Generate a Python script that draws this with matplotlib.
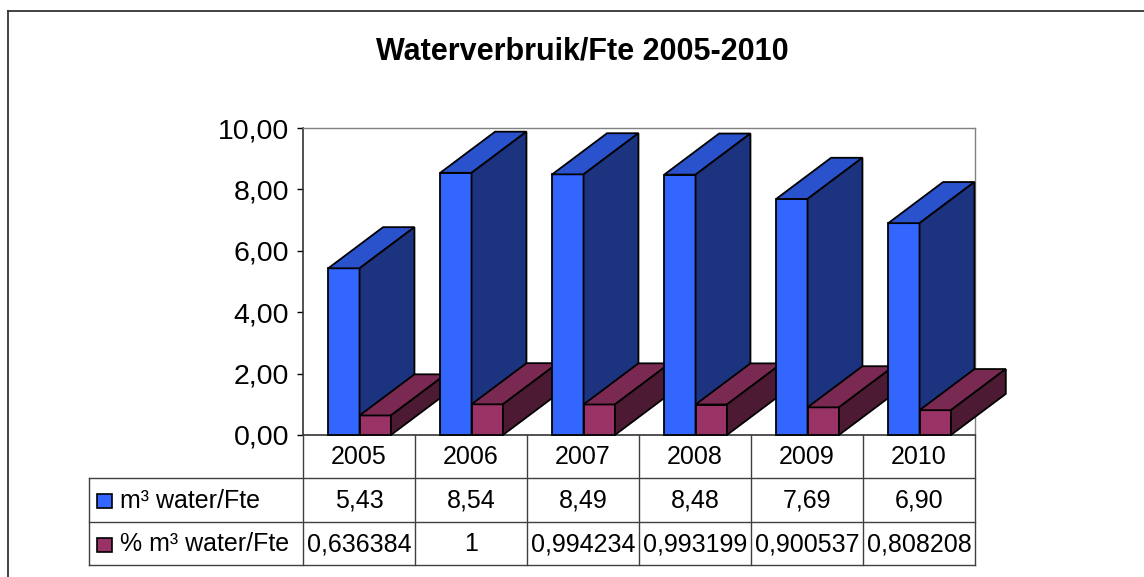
import matplotlib

matplotlib.use("Agg")
import matplotlib.pyplot as plt
from matplotlib.patches import Polygon, Rectangle
from matplotlib.lines import Line2D
from matplotlib.ticker import FuncFormatter, MultipleLocator

plt.rcParams["font.family"] = ["Liberation Sans", "DejaVu Sans"]

years = ["2005", "2006", "2007", "2008", "2009", "2010"]
water_per_fte = [5.43, 8.54, 8.49, 8.48, 7.69, 6.90]
pct_water_per_fte = [0.636384, 1, 0.994234, 0.993199, 0.900537, 0.808208]
series_names = ["m³ water/Fte", "% m³ water/Fte"]

# face colours: front, top, side
BLUE = ("#3366ff", "#2952cc", "#1c3380")
MAROON = ("#993366", "#7a2952", "#4d1a33")

W, H = 1144, 577
BAR_W = 0.28      # in category units
DX, DY = 0.49, 1.34  # fake 3d depth (category units, value units)


def nl_num(v, decimals=2):
    return f"{v:.{decimals}f}".replace(".", ",")


def nl_ratio(v):
    s = f"{v:.6f}".rstrip("0").rstrip(".")
    return s.replace(".", ",")


def draw_box(ax, x0, value, colors):
    front, top, side = colors
    x1 = x0 + BAR_W
    kw = dict(edgecolor="black", linewidth=1.3, clip_on=False, zorder=3, joinstyle="miter")
    ax.add_patch(Polygon([(x0, 0), (x1, 0), (x1, value), (x0, value)], facecolor=front, **kw))
    ax.add_patch(Polygon([(x0, value), (x1, value), (x1 + DX, value + DY), (x0 + DX, value + DY)],
                         facecolor=top, **kw))
    ax.add_patch(Polygon([(x1, 0), (x1 + DX, DY), (x1 + DX, value + DY), (x1, value)],
                         facecolor=side, **kw))


fig = plt.figure(figsize=(W / 100, H / 100), dpi=100)
fig.patch.set_facecolor("white")

# outer chart frame (runs off the right and bottom of the picture)
fig.add_artist(Line2D([8 / W, 8 / W], [0, 1 - 11 / H], color="#333333", linewidth=1.3))
fig.add_artist(Line2D([8 / W, 1], [1 - 11 / H, 1 - 11 / H], color="#333333", linewidth=1.3))

fig.text(582 / W, 1 - 51 / H, "Waterverbruik/Fte 2005-2010", ha="center", va="center",
         fontsize=22, fontweight="bold")

left, right, top, bottom = 303, 975, 128, 435
ax = fig.add_axes([left / W, 1 - bottom / H, (right - left) / W, (bottom - top) / H])
ax.set_xlim(0, len(years))
ax.set_ylim(0, 10)
ax.set_xticks([])
ax.yaxis.set_major_locator(MultipleLocator(2))
ax.yaxis.set_major_formatter(FuncFormatter(lambda v, _p: nl_num(v)))
ax.tick_params(axis="y", direction="out", length=4, width=1, labelsize=20.5, pad=6)
for s in ["top", "right"]:
    ax.spines[s].set_color("#808080")
    ax.spines[s].set_linewidth(1)
for s in ["left", "bottom"]:
    ax.spines[s].set_color("#333333")
    ax.spines[s].set_linewidth(1.2)

for i in range(len(years)):
    draw_box(ax, i + 0.225, water_per_fte[i], BLUE)
    draw_box(ax, i + 0.225 + BAR_W, pct_water_per_fte[i], MAROON)

# data table below the plot
t_left, t_bottom = 89, 565
tab = fig.add_axes([t_left / W, 1 - t_bottom / H, (right - t_left) / W, (t_bottom - bottom) / H])
lw_cat = (left - t_left) / ((right - left) / len(years))
n = len(years)
tab.set_xlim(-lw_cat, n)
tab.set_ylim(3, 0)
tab.axis("off")

line_kw = dict(color="#404040", linewidth=1, clip_on=False)
for i in range(n + 1):
    tab.plot([i, i], [0, 3], **line_kw)
tab.plot([-lw_cat, -lw_cat], [1, 3], **line_kw)
for yy in (1, 2, 3):
    tab.plot([-lw_cat, n], [yy, yy], **line_kw)

fs = 18
for i, yr in enumerate(years):
    tab.text(i + 0.5, 0.5, yr, ha="center", va="center", fontsize=fs)
    tab.text(i + 0.5, 1.52, nl_num(water_per_fte[i]), ha="center", va="center", fontsize=fs)
    tab.text(i + 0.5, 2.52, nl_ratio(pct_water_per_fte[i]), ha="center", va="center", fontsize=fs)

key_w = 15 / 112
key_h = 0.32
for r, (name, colors) in enumerate(zip(series_names, [BLUE, MAROON])):
    yc = 1.5 + r
    tab.add_patch(Rectangle((-lw_cat + 0.071, yc - key_h / 2 + 0.03), key_w, key_h,
                            facecolor=colors[0], edgecolor="black", linewidth=1.2))
    tab.text(-lw_cat + 0.277, yc + 0.02, name, ha="left", va="center", fontsize=fs)

fig.savefig("out.png", dpi=100)
